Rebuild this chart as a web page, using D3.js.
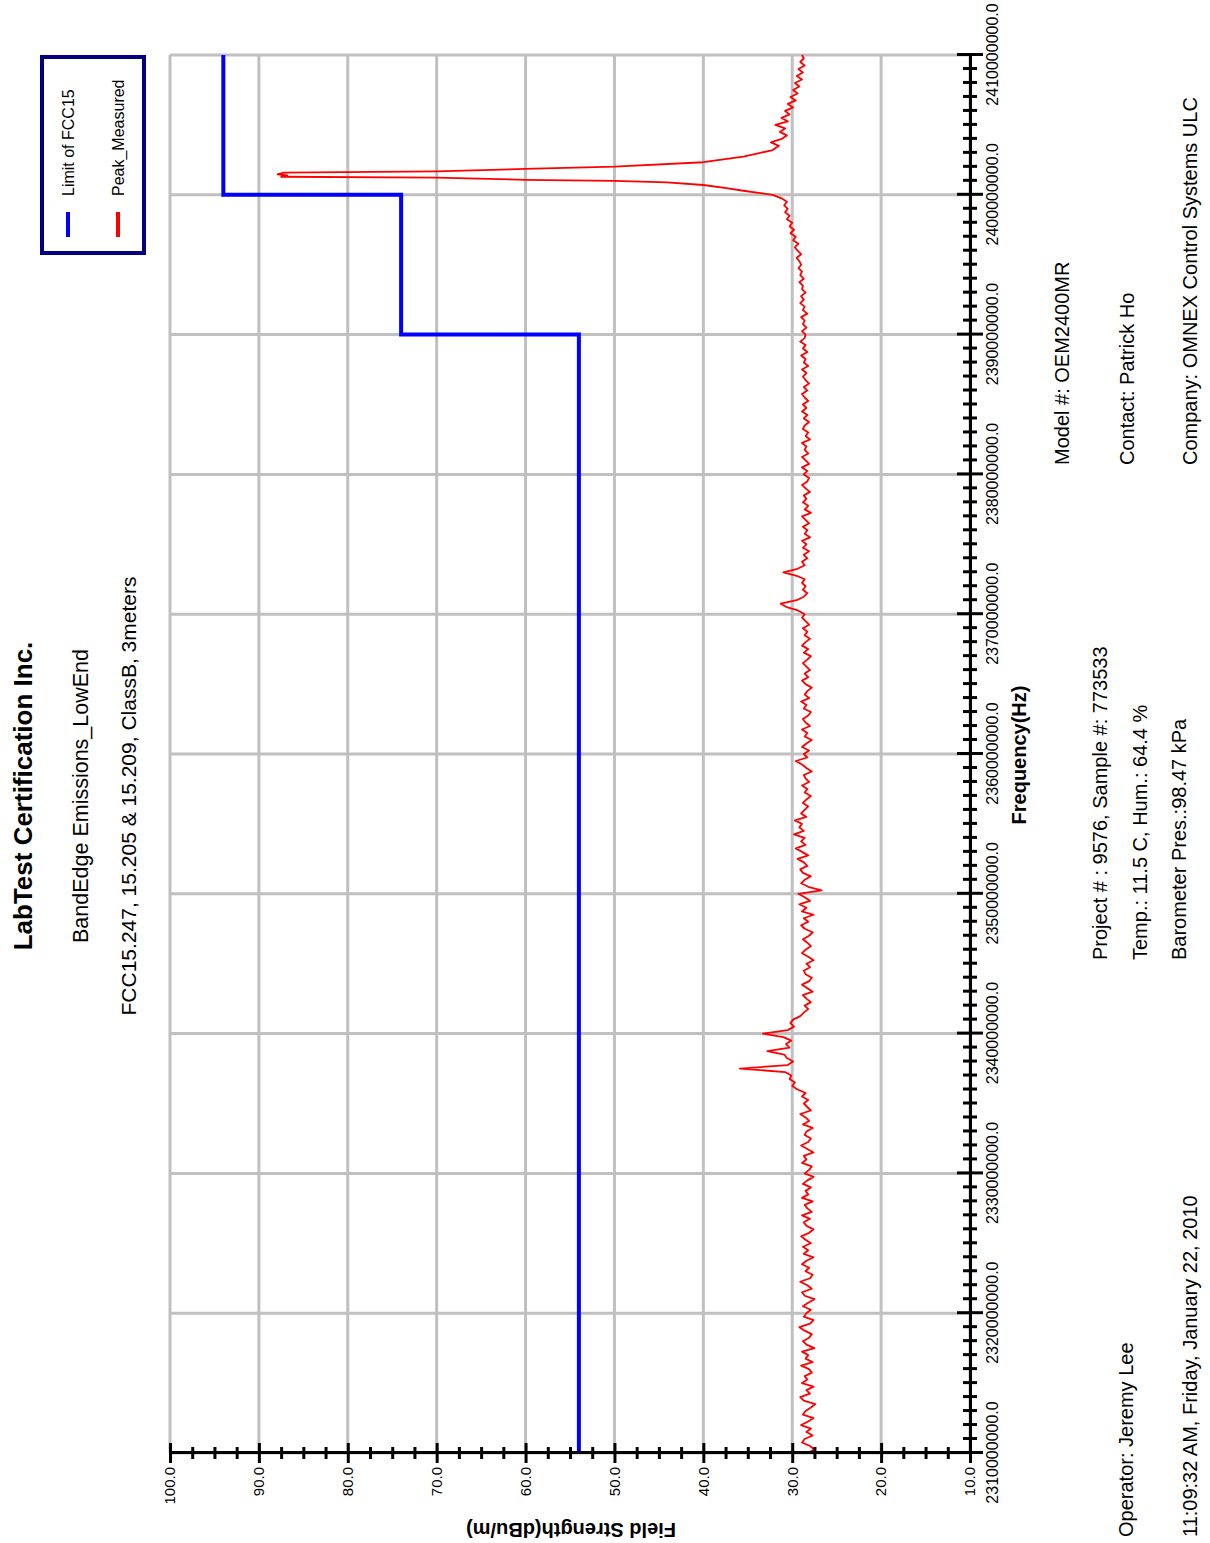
<!DOCTYPE html>
<html>
<head>
<meta charset="utf-8">
<script src="https://cdn.jsdelivr.net/npm/d3@7"></script>
<style>
body { margin: 0; background: #fff; }
svg { display: block; font-family: "Liberation Sans", Arial, sans-serif; }
</style>
</head>
<body>
<div id="chart"></div>
<script>
// tick labels
const freqTicks = [2310, 2320, 2330, 2340, 2350, 2360, 2370, 2380, 2390, 2400, 2410];   // MHz
const levelTicks = [10, 20, 30, 40, 50, 60, 70, 80, 90, 100];                            // dBuV/m

// FCC15 limit, stepped
const limitFreq = [2310, 2390, 2390, 2400, 2400, 2410];
const limitLevel = [54, 54, 74, 74, 94, 94];

// peak sweep, 0.25 MHz per point from 2310.00 to 2399.25
const sweepStart = 2310, sweepStep = 0.25;
const sweepLow = [
  28.3, 27.5, 28.0, 28.9, 28.6, 27.7, 28.4, 27.9, 29.0, 28.2,
  27.6, 28.8, 28.5, 27.9, 27.4, 28.7, 29.1, 28.0, 28.4, 27.6,
  28.9, 28.3, 28.6, 27.8, 28.1, 29.0, 27.7, 28.5, 28.2, 28.9,
  27.5, 28.4, 28.8, 28.1, 27.8, 28.6, 29.2, 28.0, 27.6, 28.7,

  28.4, 27.9, 28.8, 28.2, 27.5, 28.6, 28.9, 27.8, 28.3, 29.1,
  28.0, 27.7, 28.5, 28.1, 28.9, 28.4, 27.6, 28.7, 28.2, 28.8,
  27.9, 28.5, 29.0, 28.1, 27.6, 28.4, 28.7, 28.0, 28.9, 27.8,
  28.3, 28.6, 27.7, 28.9, 28.2, 28.5, 27.9, 28.8, 28.3, 27.6,

  28.6, 28.1, 27.8, 28.9, 28.4, 28.7, 27.6, 28.3, 29.0, 28.2,
  27.9, 28.6, 28.4, 27.7, 28.8, 28.1, 28.5, 29.1, 27.9, 28.3,
  28.7, 28.2, 28.9, 28.5, 29.4, 30.0, 29.7, 30.3, 30.1, 30.8,
  35.9, 30.5, 29.9, 30.6, 30.9, 32.8, 30.3, 30.7, 30.1, 31.0,

  33.3, 30.5, 29.8, 30.2, 29.9, 29.1, 28.7, 28.2, 28.6, 27.9,
  28.4, 28.8, 27.7, 28.3, 28.9, 28.1, 27.8, 28.5, 28.7, 28.0,
  28.4, 27.6, 28.2, 28.9, 28.5, 27.9, 28.3, 28.8, 28.1, 27.7,
  28.6, 29.0, 28.2, 28.7, 27.6, 28.9, 28.4, 29.2, 28.0, 28.6,

  29.3, 26.7, 28.2, 29.0, 28.6, 27.9, 28.8, 29.1, 28.3, 28.7,
  29.4, 28.2, 28.9, 29.6, 28.5, 29.0, 28.6, 29.8, 28.7, 29.2,
  28.9, 29.7, 28.4, 29.0, 28.6, 28.2, 28.8, 28.4, 27.9, 28.6,
  28.3, 28.9, 28.1, 28.5, 28.7, 27.8, 28.4, 28.9, 29.6, 28.3,

  28.7, 28.1, 28.9, 28.4, 27.8, 28.6, 28.3, 28.9, 28.0, 28.5,
  28.8, 28.2, 27.9, 28.7, 28.4, 29.0, 28.1, 28.6, 28.3, 27.8,
  28.5, 28.9, 28.2, 28.6, 28.0, 28.4, 28.8, 28.3, 27.9, 28.7,
  28.2, 28.9, 28.5, 28.0, 28.6, 28.3, 28.8, 28.1, 28.5, 28.9,

  28.6, 29.3, 30.6, 31.3, 29.5, 28.7, 28.3, 28.8, 28.5, 28.9,
  28.6, 29.5, 31.0, 29.4, 28.6, 28.9, 28.3, 28.7, 28.1, 28.8,
  28.4, 28.9, 28.0, 28.6, 28.3, 28.8, 28.1, 28.5, 28.9, 27.9,
  28.6, 28.2, 28.8, 28.4, 28.7, 28.0, 28.5, 28.9, 28.3, 28.1,

  28.7, 28.3, 28.9, 28.1, 28.5, 28.9, 28.2, 28.6, 28.4, 28.9,
  28.0, 28.5, 28.2, 28.8, 28.6, 28.1, 28.7, 28.3, 28.9, 28.4,
  28.8, 28.2, 28.6, 28.9, 28.3, 28.7, 28.1, 28.5, 28.8, 28.4,
  28.9, 28.2, 28.7, 28.5, 29.0, 28.3, 28.8, 28.5, 29.1, 28.6,

  28.5, 28.9, 28.4, 28.8, 28.6, 29.0, 28.3, 28.8, 28.6, 29.1,
  28.7, 29.0, 28.5, 28.9, 28.8, 29.2, 28.7, 29.1, 28.9, 29.3,
  29.0, 29.2, 29.5, 29.0, 29.4, 29.7, 29.3, 29.9, 29.6, 30.2,
  29.8, 30.3, 30.0, 30.6, 30.3, 30.8, 30.5, 30.9
];

// carrier, read at finer spacing
const carrierFreq = [2399.50, 2399.75, 2400.00, 2400.29, 2400.50, 2400.70, 2400.89, 2400.99,
  2401.07, 2401.23, 2401.29, 2401.38, 2401.47, 2401.58, 2401.68, 2401.85, 2402.01, 2402.33,
  2402.73, 2403.00, 2403.20, 2403.50, 2403.75, 2404.00];
const carrierLevel = [30.6, 31.2, 32.2, 35.5, 37.6, 40.0, 44.1, 50.0,
  60.0, 70.0, 87.5, 86.8, 87.9, 87.2, 70.0, 60.0, 50.0, 40.0,
  35.5, 33.6, 32.2, 31.5, 32.4, 31.2];

// 0.25 MHz per point from 2404.25 to 2410.00
const highStart = 2404.25;
const sweepHigh = [30.6, 31.4, 30.8, 31.9, 30.5, 31.2, 30.3, 30.8, 29.9, 30.5, 29.6, 30.2,
  29.4, 29.9, 29.2, 29.7, 28.9, 29.5, 28.8, 29.3, 28.6, 29.1, 28.7, 28.9];

const W = 1210, H = 1543;
const font = "'Liberation Sans', Arial, sans-serif";

const svg = d3.select("#chart").append("svg")
  .attr("width", W)
  .attr("height", H);

// the printout is landscape, turned a quarter turn on the page
const g = svg.append("g")
  .attr("transform", "translate(0," + H + ") rotate(-90)");

const x = d3.scaleLinear().domain([2310, 2410]).range([90, 1488]);
const y = d3.scaleLinear().domain([10, 100]).range([970, 170]);

// grid
g.append("g").selectAll("line")
  .data(freqTicks)
  .join("line")
  .attr("x1", d => x(d)).attr("x2", d => x(d))
  .attr("y1", y(100)).attr("y2", y(10))
  .attr("stroke", "#c0c0c0").attr("stroke-width", 3);

g.append("g").selectAll("line")
  .data(levelTicks)
  .join("line")
  .attr("x1", x(2310)).attr("x2", x(2410))
  .attr("y1", d => y(d)).attr("y2", d => y(d))
  .attr("stroke", "#c0c0c0").attr("stroke-width", 3);

// series
let peakPts = sweepLow.map((v, i) => [sweepStart + i * sweepStep, v]);
peakPts = peakPts.concat(carrierFreq.map((f, i) => [f, carrierLevel[i]]));
peakPts = peakPts.concat(sweepHigh.map((v, i) => [highStart + i * sweepStep, v]));

const line = d3.line()
  .x(d => x(d[0]))
  .y(d => y(d[1]));

g.append("path")
  .datum(limitFreq.map((f, i) => [f, limitLevel[i]]))
  .attr("d", line)
  .attr("fill", "none")
  .attr("stroke", "#0000ff")
  .attr("stroke-width", 4);

g.append("path")
  .datum(peakPts)
  .attr("d", line)
  .attr("fill", "none")
  .attr("stroke", "#ff0000")
  .attr("stroke-width", 1.8)
  .attr("stroke-linejoin", "round");

// axes, ticks cross the axis line
function styleAxis(sel, size) {
  sel.attr("font-family", font).attr("font-size", size);
  sel.selectAll("line").attr("stroke", "#000").attr("stroke-width", 3);
  sel.selectAll("path").attr("stroke", "#000").attr("stroke-width", 3);
  sel.selectAll("text").attr("fill", "#000");
}

const minorLevels = d3.range(10, 100.01, 2.5).filter(v => v % 10 !== 0);
const minorFreqs = d3.range(2310, 2410.01, 1).filter(v => v % 10 !== 0);

const leftMinor = g.append("g")
  .attr("transform", "translate(" + x(2310) + ",0)")
  .call(d3.axisLeft(y).tickValues(minorLevels).tickSize(6).tickFormat(""));
leftMinor.select(".domain").remove();
leftMinor.selectAll(".tick line").attr("x1", 6);
styleAxis(leftMinor, 15);

const leftAxis = g.append("g")
  .attr("transform", "translate(" + x(2310) + ",0)")
  .call(d3.axisLeft(y).tickValues(levelTicks).tickSize(10).tickSizeOuter(0)
    .tickPadding(4).tickFormat(d => d.toFixed(1)));
leftAxis.selectAll(".tick line").attr("x1", 10);
styleAxis(leftAxis, 15);

const bottomMinor = g.append("g")
  .attr("transform", "translate(0," + y(10) + ")")
  .call(d3.axisBottom(x).tickValues(minorFreqs).tickSize(7).tickFormat(""));
bottomMinor.select(".domain").remove();
bottomMinor.selectAll(".tick line").attr("y1", -7);
styleAxis(bottomMinor, 16);

const bottomAxis = g.append("g")
  .attr("transform", "translate(0," + y(10) + ")")
  .call(d3.axisBottom(x).tickValues(freqTicks).tickSize(13).tickSizeOuter(0)
    .tickPadding(4).tickFormat(d => (d * 1e6).toFixed(1)));
bottomAxis.selectAll(".tick line").attr("y1", -13);
styleAxis(bottomAxis, 16);

// axis titles
g.append("text")
  .attr("x", 788).attr("y", 1026)
  .attr("text-anchor", "middle")
  .attr("font-family", font).attr("font-size", 20).attr("font-weight", "bold")
  .text("Frequency(Hz)");

g.append("text")
  .attr("transform", "translate(20,571) rotate(-90)")
  .attr("text-anchor", "middle")
  .attr("font-family", font).attr("font-size", 20).attr("font-weight", "bold")
  .text("Field Strength(dBu/m)");

// heading
const heading = [
  { t: "LabTest Certification Inc.", y: 32, s: 26, w: "bold" },
  { t: "BandEdge Emissions_LowEnd", y: 88, s: 21.5, w: "normal" },
  { t: "FCC15.247, 15.205 & 15.209, ClassB, 3meters", y: 136, s: 21, w: "normal" }
];
g.append("g").selectAll("text")
  .data(heading)
  .join("text")
  .attr("x", 747).attr("y", d => d.y)
  .attr("text-anchor", "middle")
  .attr("font-family", font).attr("font-size", d => d.s)
  .attr("font-weight", d => d.w)
  .text(d => d.t);

// footer info
const info = [
  { t: "Operator: Jeremy Lee", x: 6, y: 1133 },
  { t: "11:09:32 AM, Friday, January 22, 2010", x: 6, y: 1197 },
  { t: "Project # : 9576, Sample #: 773533", x: 583, y: 1107 },
  { t: "Temp.: 11.5 C, Hum.: 64.4 %", x: 583, y: 1147 },
  { t: "Barometer Pres.:98.47 kPa", x: 583, y: 1186 },
  { t: "Model #: OEM2400MR", x: 1078, y: 1069 },
  { t: "Contact: Patrick Ho", x: 1078, y: 1134 },
  { t: "Company: OMNEX Control Systems ULC", x: 1078, y: 1197 }
];
g.append("g").selectAll("text")
  .data(info)
  .join("text")
  .attr("x", d => d.x).attr("y", d => d.y)
  .attr("font-family", font).attr("font-size", 20)
  .text(d => d.t);

// legend
const legend = g.append("g");
legend.append("rect")
  .attr("x", 1290).attr("y", 42)
  .attr("width", 196).attr("height", 102)
  .attr("fill", "#fff")
  .attr("stroke", "#000080").attr("stroke-width", 4);

const legendItems = [
  { name: "Limit of FCC15", color: "#0000ff", y: 68 },
  { name: "Peak_Measured", color: "#ff0000", y: 118 }
];
const li = legend.selectAll("g.item")
  .data(legendItems)
  .join("g")
  .attr("class", "item");
li.append("line")
  .attr("x1", 1306).attr("x2", 1331)
  .attr("y1", d => d.y).attr("y2", d => d.y)
  .attr("stroke", d => d.color).attr("stroke-width", 4);
li.append("text")
  .attr("x", 1347).attr("y", d => d.y + 6)
  .attr("font-family", font).attr("font-size", 16)
  .text(d => d.name);
</script>
</body>
</html>
